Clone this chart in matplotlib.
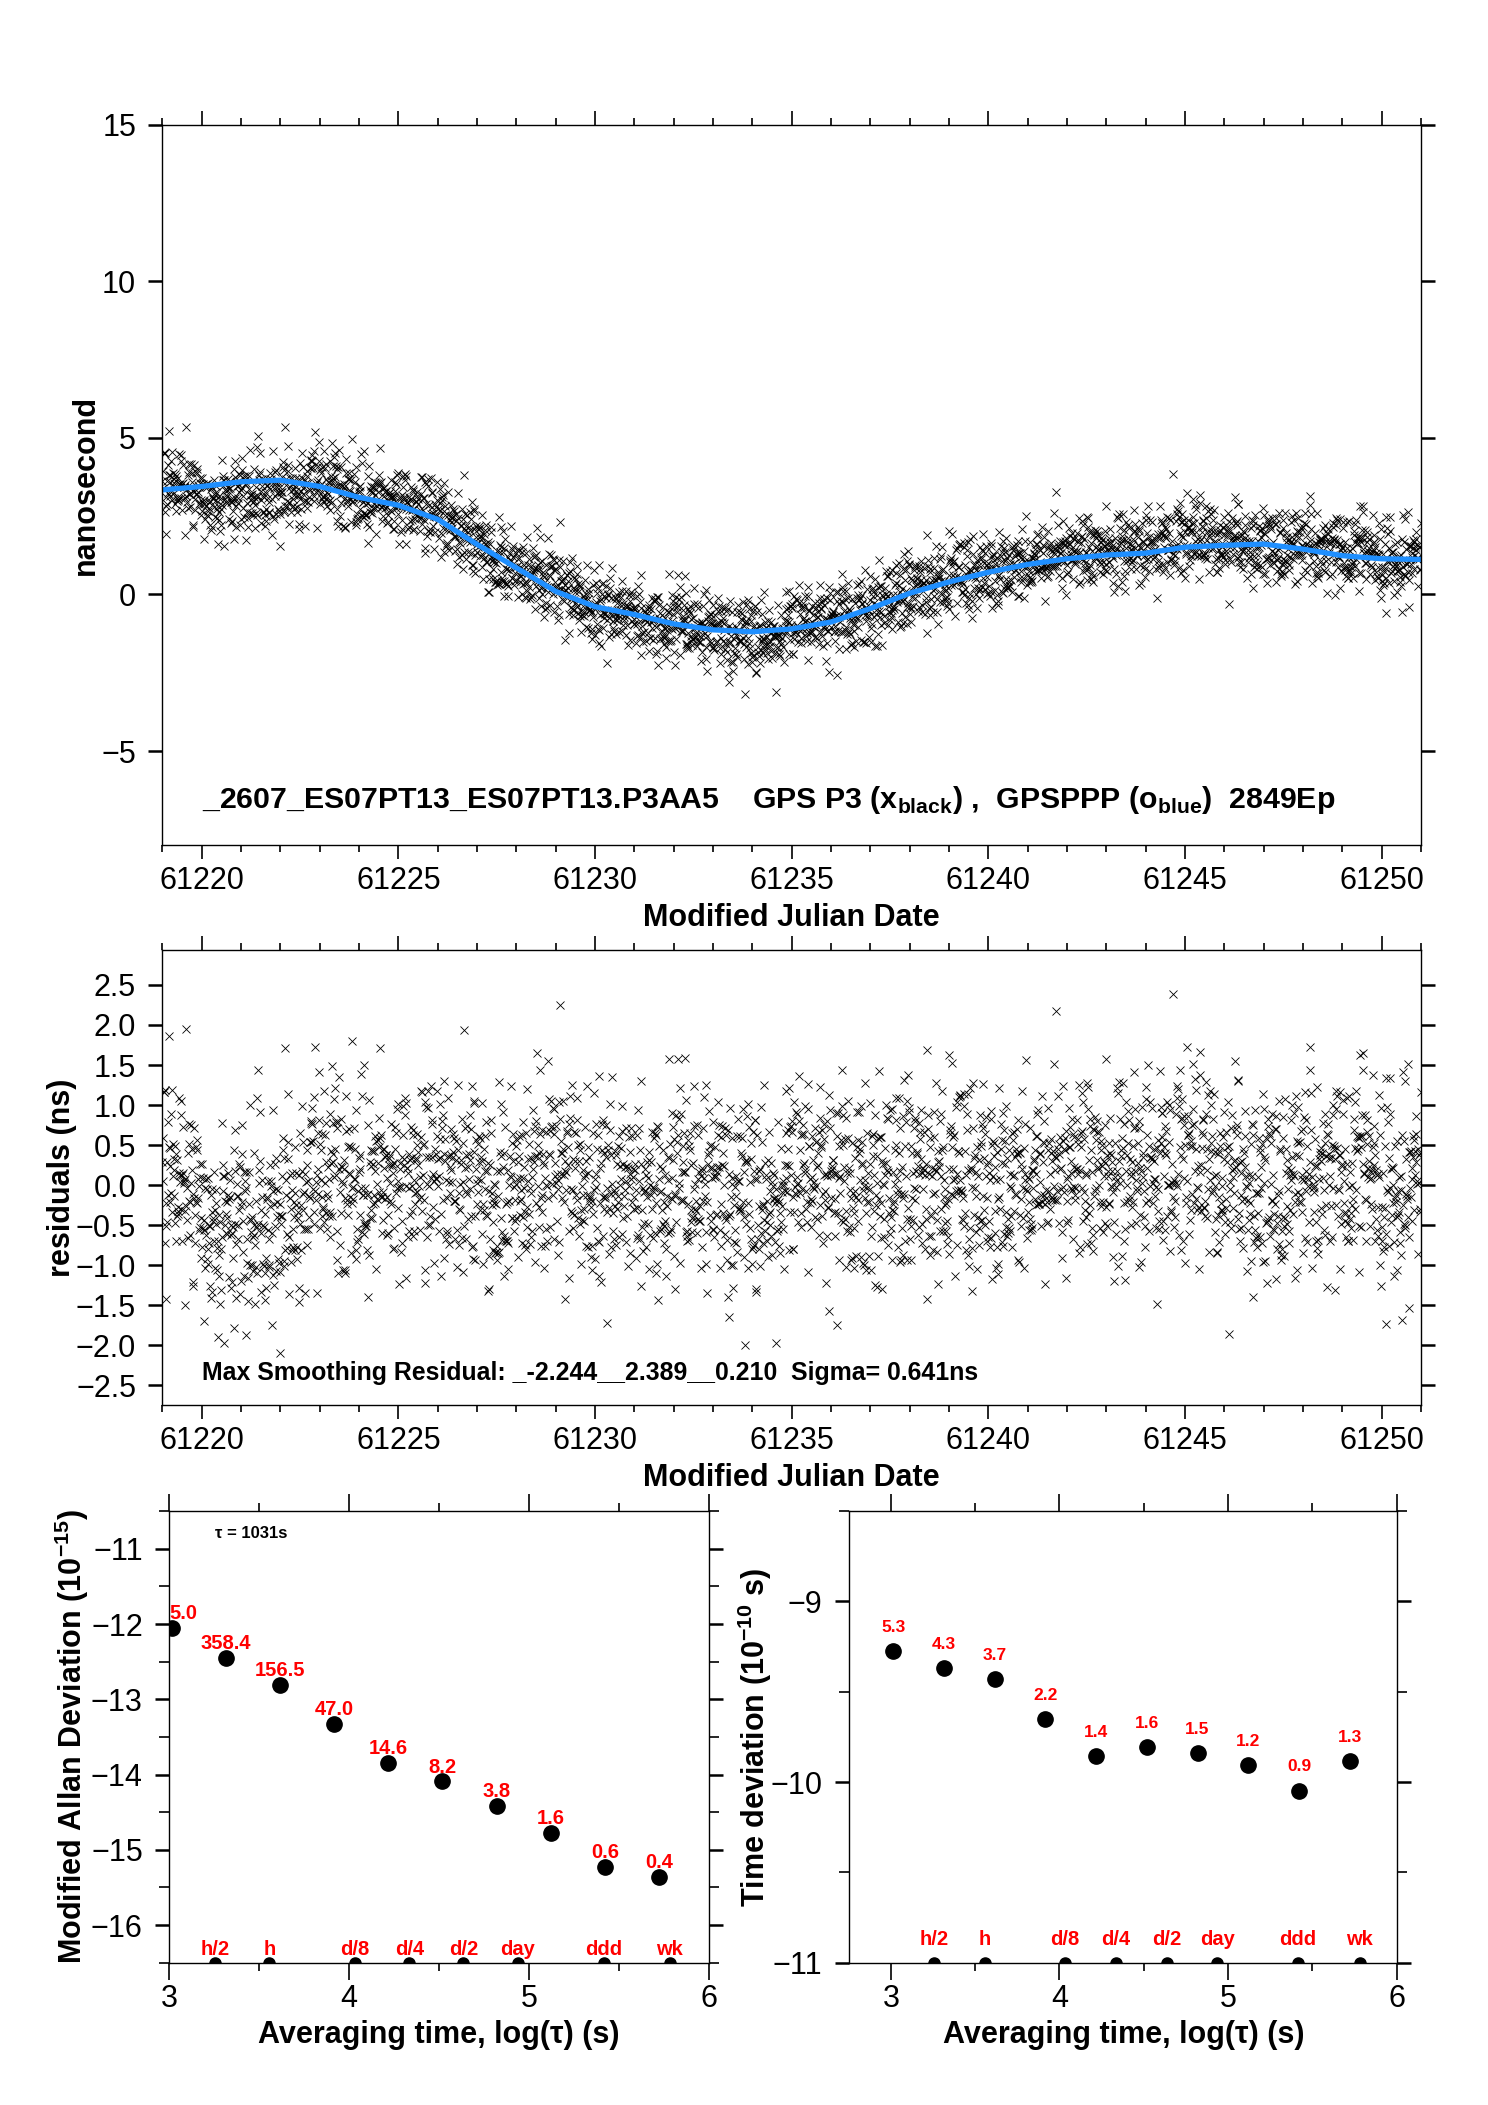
import numpy as np
import matplotlib
matplotlib.use('Agg')
import matplotlib.pyplot as plt
from matplotlib.ticker import MultipleLocator, FuncFormatter

plt.rcParams['font.family'] = ['Liberation Sans', 'DejaVu Sans']
plt.rcParams['mathtext.fontset'] = 'custom'
plt.rcParams['mathtext.rm'] = 'Liberation Sans'
plt.rcParams['mathtext.bf'] = 'Liberation Sans:bold'
plt.rcParams['axes.unicode_minus'] = True

# ---------------- data ----------------
n_epochs = 2849
mjd_start, mjd_end = 61219.0, 61251.0

# smoothed GPSPPP curve (ns), one value per day
smooth_mjd = [61219, 61220, 61221, 61222, 61223, 61224, 61225, 61226, 61227, 61228,
              61229, 61230, 61231, 61232, 61233, 61234, 61235, 61236, 61237, 61238,
              61239, 61240, 61241, 61242, 61243, 61244, 61245, 61246, 61247, 61248,
              61249, 61250, 61251]
smooth_ns = [3.34, 3.45, 3.60, 3.65, 3.45, 3.10, 2.85, 2.40, 1.60, 0.85,
             0.10, -0.39, -0.64, -0.94, -1.13, -1.19, -1.10, -0.88, -0.45, 0.04,
             0.40, 0.71, 0.96, 1.14, 1.26, 1.32, 1.51, 1.57, 1.61, 1.45,
             1.24, 1.14, 1.12]

# local mean of residuals (ns), every half day from 61219.0 to 61251.0
resid_mean_mjd = list(np.arange(61219.0, 61251.01, 0.5))
resid_mean = [0.35, 0.15, -0.30, -0.55, -0.45, -0.40, -0.30, 0.00, 0.20, 0.05,
              0.10, 0.10, 0.00, 0.25, 0.30, 0.10, 0.20, -0.20, -0.10, 0.25,
              0.40, 0.20, -0.05, -0.10, 0.00, 0.10, 0.20, -0.05, 0.10, 0.00,
              -0.25, -0.30, 0.10, 0.15, 0.00, 0.00, -0.10, -0.05, 0.10, 0.10,
              0.10, 0.05, 0.00, -0.05, 0.00, 0.05, 0.20, 0.15, 0.10, 0.05,
              0.20, 0.30, 0.35, 0.25, 0.10, 0.05, 0.10, 0.00, 0.05, 0.20,
              0.30, 0.25, 0.10, 0.00, 0.10]
resid_spread = 0.60
resid_min, resid_max = -2.244, 2.389
# isolated extreme residuals
extreme_mjd = [61229.1, 61244.7, 61220.4, 61222.0, 61234.6, 61219.6, 61233.4]
extreme_res = [2.25, 2.389, -1.90, -2.10, -1.98, 1.95, -1.65]

# Allan / time deviation
log_tau = [3.013, 3.314, 3.615, 3.916, 4.217, 4.518, 4.819, 5.120, 5.421, 5.722]
mdev = [-12.05, -12.45, -12.81, -13.33, -13.84, -14.09, -14.42, -14.78, -15.23, -15.36]
mdev_labels = ['5.0', '358.4', '156.5', '47.0', '14.6', '8.2', '3.8', '1.6', '0.6', '0.4']
tdev = [-9.275, -9.371, -9.429, -9.651, -9.857, -9.807, -9.840, -9.908, -10.048, -9.884]
tdev_labels = ['5.3', '4.3', '3.7', '2.2', '1.4', '1.6', '1.5', '1.2', '0.9', '1.3']

mark_names = ['h/2', 'h', 'd/8', 'd/4', 'd/2', 'day', 'ddd', 'wk']
mark_sec = [1800, 3600, 10800, 21600, 43200, 86400, 259200, 604800]

title_text = ('_2607_ES07PT13_ES07PT13.P3AA5    GPS P3 (x$_{\\mathbf{black}}$) ,  '
              'GPSPPP (o$_{\\mathbf{blue}}$)  2849Ep')
resid_text = 'Max Smoothing Residual: _-2.244__2.389__0.210  Sigma= 0.641ns'
tau_text = 'τ = 1031s'

# ---------------- derived series ----------------
mjd = np.linspace(mjd_start, mjd_end, n_epochs)
smooth_at = np.interp(mjd, smooth_mjd, smooth_ns)
rng = np.random.default_rng(2607)
resid = np.interp(mjd, resid_mean_mjd, resid_mean) + rng.normal(0, resid_spread, n_epochs)
resid = np.clip(resid, resid_min + 0.1, resid_max - 0.1)
idx = np.searchsorted(mjd, extreme_mjd)
resid[idx] = extreme_res
gps = smooth_at + resid

# ---------------- figure ----------------
fig = plt.figure(figsize=(14.88, 21.05), dpi=100)
TICK_FS = 22
LAB_FS = 22

def style(ax, xmaj_len=10, xmin_len=5, xpad=5):
    for s in ax.spines.values():
        s.set_linewidth(1.0)
    ax.tick_params(which='both', direction='out', top=True, right=True,
                   labeltop=False, labelright=False, labelsize=TICK_FS, width=1.2)
    ax.tick_params(axis='x', which='major', length=xmaj_len, pad=xpad)
    ax.tick_params(axis='x', which='minor', length=xmin_len)
    ax.tick_params(axis='y', which='major', length=10, width=1.8, pad=9)
    ax.tick_params(axis='y', which='minor', length=10, width=1.8)

minus_fmt = FuncFormatter(lambda v, p: ('%.1f' % v).replace('-', '\u2212'))

# top panel
ax1 = fig.add_axes([0.1092, 0.5986, 0.8457, 0.3421])
ax1.plot(mjd, gps, linestyle='none', marker='x', ms=5.5, mew=0.6, color='black')
ax1.plot(smooth_mjd, smooth_ns, color='#1f8fff', lw=3.8, solid_capstyle='round')
ax1.set_xlim(mjd_start, mjd_end)
ax1.set_ylim(-8, 15)
ax1.xaxis.set_major_locator(MultipleLocator(5))
ax1.xaxis.set_minor_locator(MultipleLocator(1))
ax1.yaxis.set_major_locator(MultipleLocator(5))
ax1.ticklabel_format(axis='x', useOffset=False, style='plain')
style(ax1)
ax1.set_ylabel('nanosecond', fontsize=LAB_FS, fontweight='bold')
ax1.yaxis.set_label_coords(-0.049, 0.5)
ax1.set_xlabel('Modified Julian Date', fontsize=LAB_FS, fontweight='bold')
ax1.xaxis.set_label_coords(0.5, -0.081)
ax1.text(0.031, 0.062, title_text, transform=ax1.transAxes, fontsize=21.8,
         fontweight='bold', va='center', ha='left')

# residual panel
ax2 = fig.add_axes([0.1092, 0.3325, 0.8457, 0.2163])
ax2.plot(mjd, resid, linestyle='none', marker='x', ms=5.5, mew=0.6, color='black')
ax2.set_xlim(mjd_start, mjd_end)
ax2.set_ylim(-2.75, 2.94)
ax2.xaxis.set_major_locator(MultipleLocator(5))
ax2.xaxis.set_minor_locator(MultipleLocator(1))
ax2.yaxis.set_major_locator(MultipleLocator(0.5))
ax2.yaxis.set_major_formatter(minus_fmt)
ax2.ticklabel_format(axis='x', useOffset=False, style='plain')
style(ax2)
ax2.set_ylabel('residuals (ns)', fontsize=LAB_FS, fontweight='bold')
ax2.yaxis.set_label_coords(-0.068, 0.5)
ax2.set_xlabel('Modified Julian Date', fontsize=LAB_FS, fontweight='bold')
ax2.xaxis.set_label_coords(0.5, -0.128)
ax2.text(0.031, 0.071, resid_text, transform=ax2.transAxes, fontsize=17.9,
         fontweight='bold', va='center', ha='left')

mark_x = np.log10(mark_sec)

# modified Allan deviation
ax3 = fig.add_axes([0.1137, 0.0676, 0.3628, 0.2145])
ax3.plot(log_tau, mdev, linestyle='none', marker='o', ms=11, color='black')
for x, y, t in zip(log_tau, mdev, mdev_labels):
    if t == mdev_labels[0]:
        ax3.text(3.0, y + 0.19, t, color='red', fontsize=14.5, fontweight='bold',
                 ha='left', va='center')
    else:
        ax3.text(x, y + 0.19, t, color='red', fontsize=14.5, fontweight='bold',
                 ha='center', va='center')
ax3.plot(mark_x, [-16.5] * len(mark_x), linestyle='none', marker='o', ms=8,
         color='black', clip_on=True)
for x, t in zip(mark_x, mark_names):
    ax3.text(x, -16.32, t, color='red', fontsize=14.5, fontweight='bold',
             ha='center', va='center')
ax3.set_xlim(3, 6)
ax3.set_ylim(-16.5, -10.5)
ax3.xaxis.set_major_locator(MultipleLocator(1))
ax3.xaxis.set_minor_locator(MultipleLocator(0.5))
ax3.yaxis.set_major_locator(MultipleLocator(1))
ax3.yaxis.set_minor_locator(MultipleLocator(0.5))
style(ax3, xmaj_len=12, xmin_len=6, xpad=3)
ax3.tick_params(axis='y', which='minor', length=7, width=1.2)
ax3.text(0.085, 0.95, tau_text, transform=ax3.transAxes, fontsize=12,
         fontweight='bold', va='center', ha='left')
ax3.set_ylabel('Modified Allan Deviation (10$^{\\mathbf{-15}}$)', fontsize=LAB_FS,
               fontweight='bold')
ax3.yaxis.set_label_coords(-0.145, 0.5)
ax3.set_xlabel('Averaging time, log(τ) (s)', fontsize=LAB_FS, fontweight='bold')
ax3.xaxis.set_label_coords(0.5, -0.127)

# time deviation
ax4 = fig.add_axes([0.5704, 0.0676, 0.3682, 0.2145])
ax4.plot(log_tau, tdev, linestyle='none', marker='o', ms=11, color='black')
for x, y, t in zip(log_tau, tdev, tdev_labels):
    ax4.text(x, y + 0.132, t, color='red', fontsize=12.5, fontweight='bold',
             ha='center', va='center')
ax4.plot(mark_x, [-11.0] * len(mark_x), linestyle='none', marker='o', ms=8,
         color='black', clip_on=True)
for x, t in zip(mark_x, mark_names):
    ax4.text(x, -10.87, t, color='red', fontsize=14.5, fontweight='bold',
             ha='center', va='center')
ax4.set_xlim(2.75, 6)
ax4.set_ylim(-11, -8.5)
ax4.xaxis.set_major_locator(MultipleLocator(1))
ax4.xaxis.set_minor_locator(MultipleLocator(0.5))
ax4.yaxis.set_major_locator(MultipleLocator(1))
ax4.yaxis.set_minor_locator(MultipleLocator(0.5))
style(ax4, xmaj_len=12, xmin_len=6, xpad=3)
ax4.tick_params(axis='y', which='minor', length=7, width=1.2)
ax4.set_ylabel('Time deviation (10$^{\\mathbf{-10}}$ s)', fontsize=LAB_FS,
               fontweight='bold')
ax4.yaxis.set_label_coords(-0.137, 0.5)
ax4.set_xlabel('Averaging time, log(τ) (s)', fontsize=LAB_FS, fontweight='bold')
ax4.xaxis.set_label_coords(0.502, -0.127)

fig.savefig('out.png', dpi=100)
